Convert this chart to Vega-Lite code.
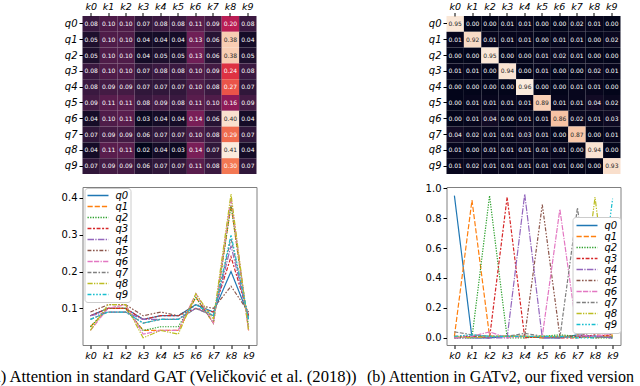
{
  "$schema": "https://vega.github.io/schema/vega-lite/v6.json",
  "padding": {"left": -13.5, "top": 1, "right": 0, "bottom": 0},
  "columns": 2,
  "bounds": "flush",
  "spacing": {"row": 13, "column": 190},
  "datasets": {
    "gat": [
      {"q":"q0","k":"k0","v":0.08},{"q":"q0","k":"k1","v":0.10},{"q":"q0","k":"k2","v":0.10},{"q":"q0","k":"k3","v":0.07},{"q":"q0","k":"k4","v":0.08},{"q":"q0","k":"k5","v":0.08},{"q":"q0","k":"k6","v":0.11},{"q":"q0","k":"k7","v":0.09},{"q":"q0","k":"k8","v":0.20},{"q":"q0","k":"k9","v":0.08},
      {"q":"q1","k":"k0","v":0.05},{"q":"q1","k":"k1","v":0.10},{"q":"q1","k":"k2","v":0.10},{"q":"q1","k":"k3","v":0.04},{"q":"q1","k":"k4","v":0.04},{"q":"q1","k":"k5","v":0.04},{"q":"q1","k":"k6","v":0.13},{"q":"q1","k":"k7","v":0.06},{"q":"q1","k":"k8","v":0.38},{"q":"q1","k":"k9","v":0.04},
      {"q":"q2","k":"k0","v":0.05},{"q":"q2","k":"k1","v":0.10},{"q":"q2","k":"k2","v":0.10},{"q":"q2","k":"k3","v":0.04},{"q":"q2","k":"k4","v":0.05},{"q":"q2","k":"k5","v":0.05},{"q":"q2","k":"k6","v":0.13},{"q":"q2","k":"k7","v":0.06},{"q":"q2","k":"k8","v":0.38},{"q":"q2","k":"k9","v":0.05},
      {"q":"q3","k":"k0","v":0.08},{"q":"q3","k":"k1","v":0.10},{"q":"q3","k":"k2","v":0.10},{"q":"q3","k":"k3","v":0.07},{"q":"q3","k":"k4","v":0.08},{"q":"q3","k":"k5","v":0.08},{"q":"q3","k":"k6","v":0.10},{"q":"q3","k":"k7","v":0.09},{"q":"q3","k":"k8","v":0.24},{"q":"q3","k":"k9","v":0.08},
      {"q":"q4","k":"k0","v":0.08},{"q":"q4","k":"k1","v":0.09},{"q":"q4","k":"k2","v":0.09},{"q":"q4","k":"k3","v":0.07},{"q":"q4","k":"k4","v":0.07},{"q":"q4","k":"k5","v":0.07},{"q":"q4","k":"k6","v":0.10},{"q":"q4","k":"k7","v":0.08},{"q":"q4","k":"k8","v":0.27},{"q":"q4","k":"k9","v":0.07},
      {"q":"q5","k":"k0","v":0.09},{"q":"q5","k":"k1","v":0.11},{"q":"q5","k":"k2","v":0.11},{"q":"q5","k":"k3","v":0.08},{"q":"q5","k":"k4","v":0.09},{"q":"q5","k":"k5","v":0.08},{"q":"q5","k":"k6","v":0.11},{"q":"q5","k":"k7","v":0.10},{"q":"q5","k":"k8","v":0.16},{"q":"q5","k":"k9","v":0.09},
      {"q":"q6","k":"k0","v":0.04},{"q":"q6","k":"k1","v":0.10},{"q":"q6","k":"k2","v":0.11},{"q":"q6","k":"k3","v":0.03},{"q":"q6","k":"k4","v":0.04},{"q":"q6","k":"k5","v":0.04},{"q":"q6","k":"k6","v":0.14},{"q":"q6","k":"k7","v":0.06},{"q":"q6","k":"k8","v":0.40},{"q":"q6","k":"k9","v":0.04},
      {"q":"q7","k":"k0","v":0.07},{"q":"q7","k":"k1","v":0.09},{"q":"q7","k":"k2","v":0.09},{"q":"q7","k":"k3","v":0.06},{"q":"q7","k":"k4","v":0.07},{"q":"q7","k":"k5","v":0.07},{"q":"q7","k":"k6","v":0.10},{"q":"q7","k":"k7","v":0.08},{"q":"q7","k":"k8","v":0.29},{"q":"q7","k":"k9","v":0.07},
      {"q":"q8","k":"k0","v":0.04},{"q":"q8","k":"k1","v":0.11},{"q":"q8","k":"k2","v":0.11},{"q":"q8","k":"k3","v":0.02},{"q":"q8","k":"k4","v":0.04},{"q":"q8","k":"k5","v":0.03},{"q":"q8","k":"k6","v":0.14},{"q":"q8","k":"k7","v":0.07},{"q":"q8","k":"k8","v":0.41},{"q":"q8","k":"k9","v":0.04},
      {"q":"q9","k":"k0","v":0.07},{"q":"q9","k":"k1","v":0.09},{"q":"q9","k":"k2","v":0.09},{"q":"q9","k":"k3","v":0.06},{"q":"q9","k":"k4","v":0.07},{"q":"q9","k":"k5","v":0.07},{"q":"q9","k":"k6","v":0.11},{"q":"q9","k":"k7","v":0.08},{"q":"q9","k":"k8","v":0.30},{"q":"q9","k":"k9","v":0.07}
    ],
    "gatv2": [
      {"q":"q0","k":"k0","v":0.95},{"q":"q0","k":"k1","v":0.00},{"q":"q0","k":"k2","v":0.00},{"q":"q0","k":"k3","v":0.01},{"q":"q0","k":"k4","v":0.01},{"q":"q0","k":"k5","v":0.00},{"q":"q0","k":"k6","v":0.00},{"q":"q0","k":"k7","v":0.02},{"q":"q0","k":"k8","v":0.01},{"q":"q0","k":"k9","v":0.00},
      {"q":"q1","k":"k0","v":0.01},{"q":"q1","k":"k1","v":0.92},{"q":"q1","k":"k2","v":0.01},{"q":"q1","k":"k3","v":0.01},{"q":"q1","k":"k4","v":0.01},{"q":"q1","k":"k5","v":0.00},{"q":"q1","k":"k6","v":0.01},{"q":"q1","k":"k7","v":0.01},{"q":"q1","k":"k8","v":0.00},{"q":"q1","k":"k9","v":0.02},
      {"q":"q2","k":"k0","v":0.00},{"q":"q2","k":"k1","v":0.00},{"q":"q2","k":"k2","v":0.95},{"q":"q2","k":"k3","v":0.00},{"q":"q2","k":"k4","v":0.00},{"q":"q2","k":"k5","v":0.01},{"q":"q2","k":"k6","v":0.02},{"q":"q2","k":"k7","v":0.01},{"q":"q2","k":"k8","v":0.00},{"q":"q2","k":"k9","v":0.00},
      {"q":"q3","k":"k0","v":0.01},{"q":"q3","k":"k1","v":0.01},{"q":"q3","k":"k2","v":0.00},{"q":"q3","k":"k3","v":0.94},{"q":"q3","k":"k4","v":0.00},{"q":"q3","k":"k5","v":0.01},{"q":"q3","k":"k6","v":0.00},{"q":"q3","k":"k7","v":0.00},{"q":"q3","k":"k8","v":0.02},{"q":"q3","k":"k9","v":0.01},
      {"q":"q4","k":"k0","v":0.00},{"q":"q4","k":"k1","v":0.00},{"q":"q4","k":"k2","v":0.00},{"q":"q4","k":"k3","v":0.00},{"q":"q4","k":"k4","v":0.96},{"q":"q4","k":"k5","v":0.00},{"q":"q4","k":"k6","v":0.00},{"q":"q4","k":"k7","v":0.01},{"q":"q4","k":"k8","v":0.01},{"q":"q4","k":"k9","v":0.00},
      {"q":"q5","k":"k0","v":0.00},{"q":"q5","k":"k1","v":0.01},{"q":"q5","k":"k2","v":0.01},{"q":"q5","k":"k3","v":0.01},{"q":"q5","k":"k4","v":0.01},{"q":"q5","k":"k5","v":0.89},{"q":"q5","k":"k6","v":0.01},{"q":"q5","k":"k7","v":0.01},{"q":"q5","k":"k8","v":0.04},{"q":"q5","k":"k9","v":0.02},
      {"q":"q6","k":"k0","v":0.00},{"q":"q6","k":"k1","v":0.01},{"q":"q6","k":"k2","v":0.04},{"q":"q6","k":"k3","v":0.00},{"q":"q6","k":"k4","v":0.01},{"q":"q6","k":"k5","v":0.01},{"q":"q6","k":"k6","v":0.86},{"q":"q6","k":"k7","v":0.02},{"q":"q6","k":"k8","v":0.01},{"q":"q6","k":"k9","v":0.03},
      {"q":"q7","k":"k0","v":0.04},{"q":"q7","k":"k1","v":0.02},{"q":"q7","k":"k2","v":0.01},{"q":"q7","k":"k3","v":0.01},{"q":"q7","k":"k4","v":0.03},{"q":"q7","k":"k5","v":0.01},{"q":"q7","k":"k6","v":0.00},{"q":"q7","k":"k7","v":0.87},{"q":"q7","k":"k8","v":0.00},{"q":"q7","k":"k9","v":0.01},
      {"q":"q8","k":"k0","v":0.01},{"q":"q8","k":"k1","v":0.00},{"q":"q8","k":"k2","v":0.01},{"q":"q8","k":"k3","v":0.01},{"q":"q8","k":"k4","v":0.01},{"q":"q8","k":"k5","v":0.01},{"q":"q8","k":"k6","v":0.01},{"q":"q8","k":"k7","v":0.00},{"q":"q8","k":"k8","v":0.94},{"q":"q8","k":"k9","v":0.00},
      {"q":"q9","k":"k0","v":0.01},{"q":"q9","k":"k1","v":0.02},{"q":"q9","k":"k2","v":0.01},{"q":"q9","k":"k3","v":0.01},{"q":"q9","k":"k4","v":0.01},{"q":"q9","k":"k5","v":0.01},{"q":"q9","k":"k6","v":0.01},{"q":"q9","k":"k7","v":0.00},{"q":"q9","k":"k8","v":0.00},{"q":"q9","k":"k9","v":0.93}
    ]
  },
  "concat": [
    {
      "width": 174, "height": 158,
      "data": {"name": "gat"},
      "encoding": {
        "x": {"field": "k", "type": "nominal", "title": null, "axis": {"orient": "top", "labelAngle": 0, "labelFontStyle": "italic", "labelFontSize": 9.5, "tickSize": 3.5, "labelPadding": 1}},
        "y": {"field": "q", "type": "nominal", "title": null, "axis": {"labelFontStyle": "italic", "labelFontSize": 10, "tickSize": 3.5, "labelPadding": 2}}
      },
      "layer": [
        {"mark": {"type": "rect"},
         "encoding": {"color": {"field": "v", "type": "quantitative", "legend": null,
           "scale": {"domain": [0.02, 0.0757, 0.1314, 0.1871, 0.2429, 0.2986, 0.3543, 0.41],
                     "range": ["#03051A", "#35193E", "#701F57", "#AD1759", "#E13342", "#F37651", "#F6B48F", "#FAEBDD"],
                     "interpolate": "rgb", "clamp": true}}}},
        {"mark": {"type": "text", "fontSize": 6, "font": "DejaVu Sans"},
         "encoding": {"text": {"field": "v", "type": "quantitative", "format": ".2f"},
           "color": {"condition": {"test": "datum.v > 0.33", "value": "#262626"}, "value": "white"}}}
      ]
    },
    {
      "width": 174, "height": 158,
      "data": {"name": "gatv2"},
      "encoding": {
        "x": {"field": "k", "type": "nominal", "title": null, "axis": {"orient": "top", "labelAngle": 0, "labelFontStyle": "italic", "labelFontSize": 9.5, "tickSize": 3.5, "labelPadding": 1}},
        "y": {"field": "q", "type": "nominal", "title": null, "axis": {"labelFontStyle": "italic", "labelFontSize": 10, "tickSize": 3.5, "labelPadding": 2}}
      },
      "layer": [
        {"mark": {"type": "rect"},
         "encoding": {"color": {"field": "v", "type": "quantitative", "legend": null,
           "scale": {"domain": [0, 0.1371, 0.2743, 0.4114, 0.5486, 0.6857, 0.8229, 0.96],
                     "range": ["#03051A", "#35193E", "#701F57", "#AD1759", "#E13342", "#F37651", "#F6B48F", "#FAEBDD"],
                     "interpolate": "rgb", "clamp": true}}}},
        {"mark": {"type": "text", "fontSize": 6, "font": "DejaVu Sans"},
         "encoding": {"text": {"field": "v", "type": "quantitative", "format": ".2f"},
           "color": {"condition": {"test": "datum.v > 0.7", "value": "#262626"}, "value": "white"}}}
      ]
    },
    {
      "width": 174, "height": 158,
      "data": {"name": "gat"},
      "view": {"stroke": "#808080", "strokeWidth": 1},
      "title": {"text": "(a) Attention in standard GAT (Veličković et al. (2018))", "orient": "bottom", "frame": "group", "anchor": "middle", "dx": 2.7, "offset": 9, "font": "Liberation Serif", "fontSize": 16.6, "fontWeight": "normal", "color": "black"},
      "mark": {"type": "line", "strokeWidth": 1.2},
      "encoding": {
        "x": {"field": "k", "type": "ordinal", "title": null, "scale": {"padding": 0.45}, "axis": {"labelAngle": 0, "labelFontStyle": "italic", "labelFontSize": 9.5, "tickSize": 3.5, "labelPadding": 2}},
        "y": {"field": "v", "type": "quantitative", "title": null, "scale": {"domain": [0.0005, 0.4295], "nice": false, "zero": false}, "axis": {"values": [0.1, 0.2, 0.3, 0.4], "format": ".1f", "labelFontSize": 10, "tickSize": 3.5, "labelPadding": 2}},
        "color": {"field": "q", "type": "nominal", "scale": {"scheme": "category10"},
          "legend": {"title": null, "orient": "none", "legendX": 2, "legendY": 1, "fillColor": "white", "strokeColor": "#cccccc", "cornerRadius": 3, "padding": 2, "symbolType": "stroke", "symbolSize": 441, "symbolStrokeWidth": 1.5, "clipHeight": 11, "rowPadding": 0, "labelFontStyle": "italic", "labelFontSize": 10, "labelOffset": 6, "labelFont": "DejaVu Sans"}},
        "strokeDash": {"field": "q", "type": "nominal",
          "scale": {"range": [[1, 0], [5.2, 2], [1.3, 1.3], [3.9, 1.6, 2, 1.6], [6.5, 1.3, 1.3, 1.3], [3.9, 1.6, 1.6, 1.6, 1.6, 1.6], [5.2, 1.3, 5.2, 1.3, 1.3, 1.3], [3.9, 1.6, 3.9, 1.6, 1.6, 1.6], [5.2, 1.3, 1.3, 1.3, 1.3, 1.3], [3.9, 1.6, 1.6, 1.6, 1.6, 1.6, 1.6, 1.6]]},
          "legend": {"title": null, "orient": "none", "legendX": 2, "legendY": 1, "fillColor": "white", "strokeColor": "#cccccc", "cornerRadius": 3, "padding": 2, "symbolType": "stroke", "symbolSize": 441, "symbolStrokeWidth": 1.5, "clipHeight": 11, "rowPadding": 0, "labelFontStyle": "italic", "labelFontSize": 10, "labelOffset": 6, "labelFont": "DejaVu Sans"}}
      }
    },
    {
      "width": 174, "height": 158,
      "data": {"name": "gatv2"},
      "view": {"stroke": "#808080", "strokeWidth": 1},
      "title": {"text": "(b) Attention in GATv2, our fixed version", "orient": "bottom", "frame": "group", "anchor": "middle", "dx": -33, "offset": 9, "font": "Liberation Serif", "fontSize": 16, "fontWeight": "normal", "color": "black"},
      "mark": {"type": "line", "strokeWidth": 1.2},
      "encoding": {
        "x": {"field": "k", "type": "ordinal", "title": null, "scale": {"padding": 0.45}, "axis": {"labelAngle": 0, "labelFontStyle": "italic", "labelFontSize": 9.5, "tickSize": 3.5, "labelPadding": 2}},
        "y": {"field": "v", "type": "quantitative", "title": null, "scale": {"domain": [-0.048, 1.008], "nice": false, "zero": false}, "axis": {"values": [0, 0.2, 0.4, 0.6, 0.8, 1.0], "format": ".1f", "labelFontSize": 10, "tickSize": 3.5, "labelPadding": 2}},
        "color": {"field": "q", "type": "nominal", "scale": {"scheme": "category10"},
          "legend": {"title": null, "orient": "none", "legendX": 126, "legendY": 30, "fillColor": "white", "fillOpacity": 0.8, "strokeColor": "#cccccc", "cornerRadius": 3, "padding": 3, "symbolType": "stroke", "symbolSize": 441, "symbolStrokeWidth": 1.5, "clipHeight": 11, "rowPadding": 0, "labelFontStyle": "italic", "labelFontSize": 10, "labelOffset": 6, "labelFont": "DejaVu Sans"}},
        "strokeDash": {"field": "q", "type": "nominal",
          "scale": {"range": [[1, 0], [5.2, 2], [1.3, 1.3], [3.9, 1.6, 2, 1.6], [6.5, 1.3, 1.3, 1.3], [3.9, 1.6, 1.6, 1.6, 1.6, 1.6], [5.2, 1.3, 5.2, 1.3, 1.3, 1.3], [3.9, 1.6, 3.9, 1.6, 1.6, 1.6], [5.2, 1.3, 1.3, 1.3, 1.3, 1.3], [3.9, 1.6, 1.6, 1.6, 1.6, 1.6, 1.6, 1.6]]},
          "legend": {"title": null, "orient": "none", "legendX": 126, "legendY": 30, "fillColor": "white", "fillOpacity": 0.8, "strokeColor": "#cccccc", "cornerRadius": 3, "padding": 3, "symbolType": "stroke", "symbolSize": 441, "symbolStrokeWidth": 1.5, "clipHeight": 11, "rowPadding": 0, "labelFontStyle": "italic", "labelFontSize": 10, "labelOffset": 6, "labelFont": "DejaVu Sans"}}
      }
    }
  ],
  "resolve": {"scale": {"color": "independent", "x": "independent", "y": "independent", "strokeDash": "independent"}, "legend": {"color": "independent", "strokeDash": "independent"}},
  "config": {
    "font": "DejaVu Sans",
    "view": {"stroke": null},
    "axis": {"labelFont": "DejaVu Sans", "labelColor": "black", "tickColor": "black", "domain": false, "grid": false}
  }
}
